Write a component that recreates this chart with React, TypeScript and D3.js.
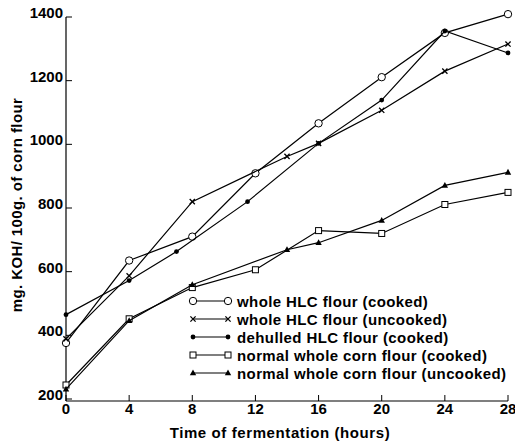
import React from "react";
import * as d3 from "d3";

const W = 515;
const H = 445;

const xTicks = [0, 4, 8, 12, 16, 20, 24, 28];
const yTicks = [200, 400, 600, 800, 1000, 1200, 1400];

const wholeCookedT = [0, 4, 8, 12, 16, 20, 24, 28];
const wholeCookedV = [376, 635, 710, 909, 1066, 1211, 1350, 1409];

const wholeUncookedT = [0, 4, 8, 14, 16, 20, 24, 28];
const wholeUncookedV = [389, 587, 820, 962, 1003, 1107, 1230, 1315];

const dehulledT = [0, 4, 7, 11.5, 16, 20, 24, 28];
const dehulledV = [465, 572, 663, 820, 1003, 1139, 1356, 1287];

const normalCookedT = [0, 4, 8, 12, 16, 20, 24, 28];
const normalCookedV = [244, 452, 550, 606, 729, 720, 811, 849];

const normalUncookedT = [0, 4, 8, 14, 16, 20, 24, 28];
const normalUncookedV = [231, 446, 559, 669, 691, 761, 871, 912];

const seriesNames = [
  "whole HLC flour (cooked)",
  "whole HLC flour (uncooked)",
  "dehulled HLC flour (cooked)",
  "normal whole corn flour (cooked)",
  "normal whole corn flour (uncooked)",
];
const seriesMarkers = ["circle", "cross", "dot", "square", "triangle"];

const seriesData = [
  [wholeCookedT, wholeCookedV],
  [wholeUncookedT, wholeUncookedV],
  [dehulledT, dehulledV],
  [normalCookedT, normalCookedV],
  [normalUncookedT, normalUncookedV],
];

const FONT = "'Liberation Sans', Arial, sans-serif";

function Marker({ type, x, y }: { type: string; x: number; y: number }) {
  switch (type) {
    case "circle":
      return <circle cx={x} cy={y} r={3.7} fill="white" stroke="black" strokeWidth={1} />;
    case "cross":
      return (
        <path
          d={`M${x - 2.6},${y - 2.6}L${x + 2.6},${y + 2.6}M${x - 2.6},${y + 2.6}L${x + 2.6},${y - 2.6}`}
          stroke="black"
          strokeWidth={1.3}
        />
      );
    case "dot":
      return <circle cx={x} cy={y} r={2.4} fill="black" />;
    case "square":
      return <rect x={x - 3} y={y - 3} width={6} height={6} fill="white" stroke="black" strokeWidth={1} />;
    case "triangle":
      return <path d={`M${x},${y - 3.5}L${x + 3.2},${y + 2.3}L${x - 3.2},${y + 2.3}Z`} fill="black" />;
    default:
      return null;
  }
}

export default function App() {
  const x = d3.scaleLinear().domain([0, 28]).range([66, 508]);
  const y = d3.scaleLinear().domain([200, 1400]).range([399, 17]);
  const line = d3
    .line<[number, number]>()
    .x((d) => x(d[0]))
    .y((d) => y(d[1]));

  const axisY = 401;
  const legendY0 = 301;
  const legendStep = 18;

  return (
    <svg
      width={W}
      height={H}
      style={{ position: "absolute", left: 0, top: 0, background: "white" }}
      fontFamily={FONT}
    >
      <rect x={0} y={0} width={W} height={H} fill="white" />
      {/* axes */}
      <line x1={x(0)} x2={x(0)} y1={y(1400)} y2={axisY} stroke="black" strokeWidth={1.2} />
      <line x1={x(0)} x2={x(28)} y1={axisY} y2={axisY} stroke="black" strokeWidth={1.2} />
      {yTicks.map((t) => (
        <g key={"y" + t}>
          <line x1={x(0)} x2={x(0) + 6} y1={y(t)} y2={y(t)} stroke="black" strokeWidth={1} />
          <text x={x(0) - 3} y={y(t) + 1} textAnchor="end" fontSize={15} fontWeight="bold">
            {t}
          </text>
        </g>
      ))}
      {xTicks.map((t) => (
        <g key={"x" + t}>
          <line x1={x(t)} x2={x(t)} y1={axisY} y2={axisY - 6} stroke="black" strokeWidth={1} />
          <text x={x(t)} y={axisY + 13} textAnchor="middle" fontSize={15} fontWeight="bold">
            {t}
          </text>
        </g>
      ))}
      <text x={280} y={438} textAnchor="middle" fontSize={15} fontWeight="bold" letterSpacing={0.6}>
        Time of fermentation (hours)
      </text>
      <text
        transform={`translate(22,205) rotate(-90)`}
        textAnchor="middle"
        fontSize={15}
        fontWeight="bold"
        letterSpacing={0.4}
      >
        mg. KOH/ 100g. of corn flour
      </text>
      {/* series */}
      {seriesData.map(([ts, vs], i) => {
        const pts = ts.map((t, j) => [t, vs[j]] as [number, number]);
        return (
          <g key={"s" + i}>
            <path d={line(pts) || ""} fill="none" stroke="black" strokeWidth={1.2} />
            {pts.map((p, j) => (
              <Marker key={j} type={seriesMarkers[i]} x={x(p[0])} y={y(p[1])} />
            ))}
          </g>
        );
      })}
      {/* legend */}
      {seriesNames.map((name, i) => {
        const ly = legendY0 + i * legendStep;
        return (
          <g key={"l" + i}>
            <line x1={193} x2={228} y1={ly} y2={ly} stroke="black" strokeWidth={1.2} />
            <Marker type={seriesMarkers[i]} x={193} y={ly} />
            <Marker type={seriesMarkers[i]} x={228} y={ly} />
            <text x={237} y={ly + 5.5} fontSize={15} fontWeight="bold" letterSpacing={0.4}>
              {name}
            </text>
          </g>
        );
      })}
    </svg>
  );
}
